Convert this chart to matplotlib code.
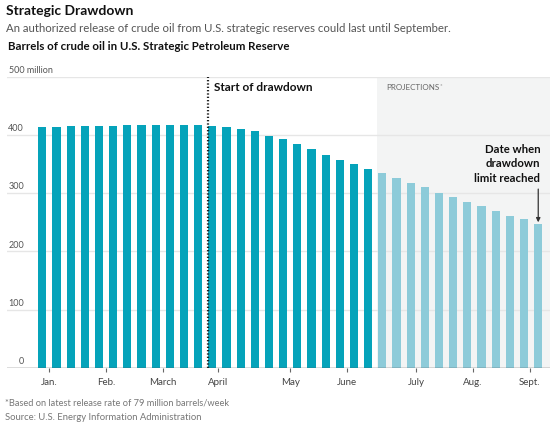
import numpy as np
import matplotlib.pyplot as plt
from matplotlib.transforms import blended_transform_factory

plt.rcParams['font.family'] = ['Lato', 'DejaVu Sans']

# weekly reserve levels, million barrels
actual = [413, 413, 415, 415, 415, 415, 416.5, 416.5, 416.5, 416.5, 416.5, 416.5,
          415, 413, 409.5, 406, 398, 393, 384, 375, 366, 357, 350, 342]
projected = [334, 326, 317, 310, 301, 293, 285, 278, 269, 261, 255, 247]
months = ['Jan.', 'Feb.', 'March', 'April', 'May', 'June', 'July', 'Aug.', 'Sept.']
month_week = [0.5, 4.5, 8.5, 12.4, 17.5, 21.5, 26.4, 30.4, 34.4]
drawdown_start = 12  # first week of the release
y_ticks = [0, 100, 200, 300, 400, 500]

dark = '#05a3ba'
light = '#8dcbd9'
bw = 0.58

fig = plt.figure(figsize=(5.5, 4.29), dpi=100)
ax = fig.add_axes([7 / 550, 61 / 429, 543 / 550, 291.4 / 429])

x_act = np.arange(len(actual))
x_proj = np.arange(len(actual), len(actual) + len(projected))

# projections shading
ax.axvspan(x_proj[0] - bw / 2 - 0.08, 40, color='#f3f4f4', zorder=0, lw=0)

ax.bar(x_act, actual, width=bw, color=dark, zorder=2)
ax.bar(x_proj, projected, width=bw, color=light, zorder=2)

ax.set_xlim(-2.49, 35.83)
ax.set_ylim(0, 500)

for v in y_ticks[1:]:
    ax.axhline(v, color='#e6e6e6', lw=1, zorder=1)
ax.axhline(0, color='#555555', lw=1, zorder=3)

for s in ax.spines.values():
    s.set_visible(False)
ax.set_yticks([])
ax.set_xticks(month_week, months)
ax.tick_params(axis='x', length=3, width=0.8, color='#666666', labelsize=7,
               labelcolor='#444444', pad=4)

# y labels sitting above grid lines
tr = blended_transform_factory(fig.transFigure, ax.transData)
for v in y_ticks:
    if v == 500:
        ax.text(9 / 550, v + 3, '500 million', transform=tr, ha='left', va='bottom',
                fontsize=6.5, color='#555555')
    else:
        ax.text(24 / 550, v + 3, str(v), transform=tr, ha='right', va='bottom',
                fontsize=6.5, color='#555555')

# start of drawdown
xs = drawdown_start - bw / 2
ax.plot([xs, xs], [0, 500], color='#222222', lw=1.6, ls=(0, (0.6, 0.9)), zorder=4)
ax.text(xs + 0.4, 482, 'Start of drawdown', fontsize=8.5, fontweight='bold',
        color='#111111', va='center', ha='left')

ax.text(x_proj[0] + 0.3, 481, 'PROJECTIONS', fontsize=5.8, color='#666666',
        va='center', ha='left')
ax.text(x_proj[0] + 4.05, 484, '*', fontsize=4.5, color='#888888', va='center', ha='left')

# annotation
last_x = x_proj[-1]
ax.text(last_x + 0.15, 384, 'Date when\ndrawdown\nlimit reached', fontsize=8.2,
        fontweight='bold', color='#111111', ha='right', va='top', linespacing=1.35)
ax.annotate('', xy=(last_x, projected[-1] + 3), xytext=(last_x, 307),
            arrowprops=dict(arrowstyle='-|>', color='#333333', lw=0.9,
                            mutation_scale=6, shrinkA=0, shrinkB=0))

# titles
fig.text(6 / 550, 1 - 11 / 429, 'Strategic Drawdown', fontsize=10,
         fontweight='bold', color='#111111', va='center', ha='left')
fig.text(6 / 550, 1 - 28.5 / 429,
         'An authorized release of crude oil from U.S. strategic reserves could last until September.',
         fontsize=8.2, color='#555555', va='center', ha='left')
fig.text(8 / 550, 1 - 47 / 429,
         'Barrels of crude oil in U.S. Strategic Petroleum Reserve',
         fontsize=8.3, fontweight='bold', color='#111111', va='center', ha='left')

fig.text(5 / 550, 1 - 403 / 429,
         '*Based on latest release rate of 79 million barrels/week',
         fontsize=6.7, color='#777777', va='center', ha='left')
fig.text(5 / 550, 1 - 417 / 429, 'Source: U.S. Energy Information Administration',
         fontsize=6.8, color='#777777', va='center', ha='left')

fig.savefig('out.png', dpi=100, facecolor='white')
